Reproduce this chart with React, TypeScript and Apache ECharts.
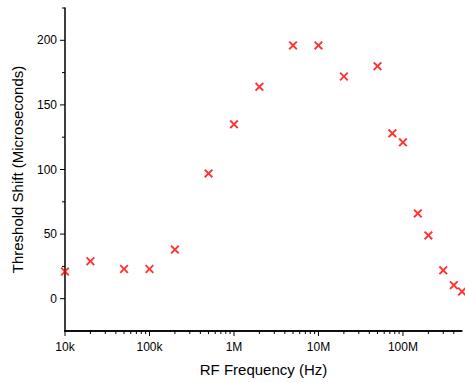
import React, { useEffect, useRef } from "react";
import * as echarts from "echarts";

const frequencies = [1e4, 2e4, 5e4, 1e5, 2e5, 5e5, 1e6, 2e6, 5e6, 1e7, 2e7, 5e7, 7.5e7, 1e8, 1.5e8, 2e8, 3e8, 4e8, 5e8];
const thresholdShift = [21, 29, 23, 23, 38, 97, 135, 164, 196, 196, 172, 180, 128, 121, 66, 49, 22, 10.5, 5.5];
const yMajorTicks = [0, 50, 100, 150, 200];
const yMinorTicks = [25, 75, 125, 175, 225];
const xMajorTicks = [1e4, 1e5, 1e6, 1e7, 1e8];
const xTickLabels = ["10k", "100k", "1M", "10M", "100M"];
const xMinorMultipliers = [2, 3, 4, 5, 6, 7, 8, 9];
const X_MIN = 1e4;
const X_MAX = 5e8;
const Y_MIN = -25;
const Y_MAX = 225;

const FONT = "'Liberation Sans', Arial, sans-serif";
const CROSS = "path://M1.5,0L5,3.5L8.5,0L10,1.5L6.5,5L10,8.5L8.5,10L5,6.5L1.5,10L0,8.5L3.5,5L0,1.5Z";

export default function App() {
  const ref = useRef<HTMLDivElement>(null);
  useEffect(() => {
    const chart = echarts.init(ref.current!, undefined, { renderer: "svg" });
    const data = frequencies.map((f, i) => [f, thresholdShift[i]]);

    chart.setOption({
      animation: false,
      backgroundColor: "#fff",
      grid: { left: 65, right: 2, top: 8, bottom: 52 },
      xAxis: {
        type: "log",
        logBase: 10,
        min: X_MIN,
        max: X_MAX,
        name: "RF Frequency (Hz)",
        nameLocation: "middle",
        nameGap: 31,
        nameTextStyle: { fontFamily: FONT, fontSize: 15, color: "#000" },
        axisLine: { show: true, onZero: false, lineStyle: { color: "#000", width: 1.5 } },
        axisTick: { show: false },
        splitLine: { show: false },
        axisLabel: {
          margin: 10,
          fontFamily: FONT,
          fontSize: 12,
          color: "#000",
          formatter: (v: number) => {
            const i = xMajorTicks.findIndex((t) => Math.abs(t - v) / t < 1e-6);
            return i >= 0 ? xTickLabels[i] : "";
          },
        },
      },
      yAxis: {
        type: "value",
        min: Y_MIN,
        max: Y_MAX,
        interval: 25,
        name: "Threshold Shift (Microseconds)",
        nameLocation: "middle",
        nameGap: 40,
        nameTextStyle: { fontFamily: FONT, fontSize: 15, color: "#000" },
        axisLine: { show: true, onZero: false, lineStyle: { color: "#000", width: 1.5 } },
        axisTick: { show: false },
        splitLine: { show: false },
        axisLabel: {
          margin: 8,
          fontFamily: FONT,
          fontSize: 12,
          color: "#000",
          customValues: yMajorTicks,
        },
      },
      series: [
        {
          type: "scatter",
          data,
          symbol: CROSS,
          symbolSize: 9,
          clip: false,
          itemStyle: { color: "#ff0000" },
        },
      ],
    });

    // Axis line and ticks as top-level graphics, positioned through the chart's own scales.
    const px = (x: number, y: number) => chart.convertToPixel({ gridIndex: 0 }, [x, y]) as number[];
    const stroke = { stroke: "#000", lineWidth: 1 };
    const graphics: any[] = [];
    const a = px(X_MIN, Y_MIN);
    const b = px(X_MAX, Y_MIN);
    graphics.push({
      type: "line",
      z: 100,
      shape: { x1: a[0] - 0.75, y1: a[1], x2: b[0], y2: b[1] },
      style: { stroke: "#000", lineWidth: 1.5 },
    });
    xMajorTicks.forEach((m) => {
      const p = px(m, Y_MIN);
      graphics.push({ type: "line", z: 100, shape: { x1: p[0], y1: p[1], x2: p[0], y2: p[1] + 5 }, style: stroke });
      xMinorMultipliers.forEach((k) => {
        const v = m * k;
        if (v < X_MAX) {
          const q = px(v, Y_MIN);
          graphics.push({ type: "line", z: 100, shape: { x1: q[0], y1: q[1], x2: q[0], y2: q[1] + 3 }, style: stroke });
        }
      });
    });
    yMajorTicks.forEach((v) => {
      const p = px(X_MIN, v);
      graphics.push({ type: "line", z: 100, shape: { x1: p[0] - 5, y1: p[1], x2: p[0], y2: p[1] }, style: stroke });
    });
    yMinorTicks.forEach((v) => {
      const p = px(X_MIN, v);
      graphics.push({ type: "line", z: 100, shape: { x1: p[0] - 3, y1: p[1], x2: p[0], y2: p[1] }, style: stroke });
    });
    chart.setOption({ graphic: graphics });

    return () => chart.dispose();
  }, []);
  return (
    <div style={{ position: "fixed", left: 0, top: 0, width: 465, height: 383, background: "#fff" }}>
      <div ref={ref} style={{ width: 465, height: 383 }} />
    </div>
  );
}
